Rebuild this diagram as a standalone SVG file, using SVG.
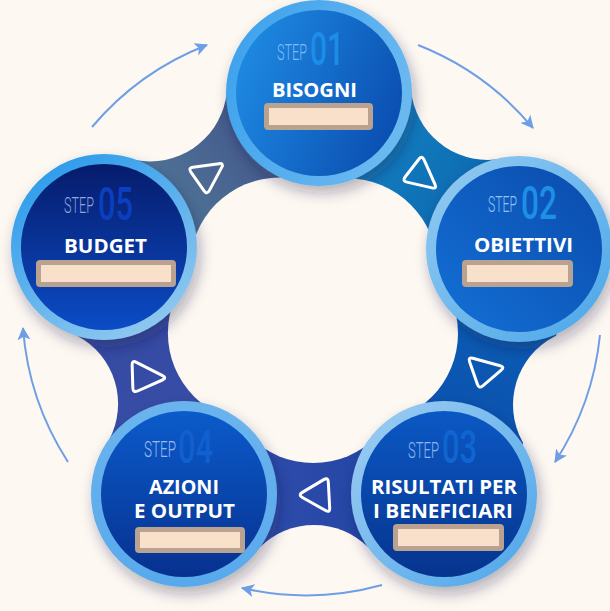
<svg xmlns="http://www.w3.org/2000/svg" width="610" height="611" viewBox="0 0 610 611">
<defs>
<style>
.cream{fill:#FEF8F3}
.step{font-family:"Roboto","Liberation Sans",sans-serif;font-weight:300;font-size:22px}
.num{font-family:"Roboto","Liberation Sans",sans-serif;font-weight:500;font-size:46px}
.title{font-family:"Open Sans","Liberation Sans",sans-serif;font-weight:700;fill:#FFFFFF;font-size:19px}
.box{fill:#F8E0CA;stroke:#B9A290;stroke-width:5}
.tri{fill:none;stroke:#FFFFFF;stroke-width:3;stroke-linejoin:round}
.arc{fill:none;stroke:#6E9FE6;stroke-width:2;marker-end:url(#ah)}
</style>
<marker id="ah" viewBox="0 0 12 12" refX="11" refY="6" markerWidth="13" markerHeight="13" markerUnits="userSpaceOnUse" orient="auto">
<path d="M0,0 L12,6 L0,12 L3,6 Z" fill="#6E9FE6"/>
</marker>
<filter id="sh" x="-25%" y="-25%" width="155%" height="155%">
<feDropShadow dx="3" dy="7" stdDeviation="7" flood-color="#1a1a3a" flood-opacity="0.33"/>
</filter>
<linearGradient id="g1" x1="0" y1="0.3" x2="1" y2="0.7"><stop offset="0" stop-color="#1E8AE2"/><stop offset="1" stop-color="#0A4DB0"/></linearGradient>
<linearGradient id="g2" x1="0" y1="1" x2="1" y2="0"><stop offset="0" stop-color="#1470D6"/><stop offset="1" stop-color="#0A4BAC"/></linearGradient>
<linearGradient id="g3" x1="0" y1="0" x2="0" y2="1"><stop offset="0" stop-color="#0B58C4"/><stop offset="1" stop-color="#06348E"/></linearGradient>
<linearGradient id="g4" x1="0" y1="0" x2="0" y2="1"><stop offset="0" stop-color="#0B5BCB"/><stop offset="1" stop-color="#07318F"/></linearGradient>
<linearGradient id="g5" x1="0" y1="0" x2="0" y2="1"><stop offset="0" stop-color="#061C6C"/><stop offset="1" stop-color="#0B4CC6"/></linearGradient>
<linearGradient id="r1" x1="0" y1="0" x2="1" y2="0.4"><stop offset="0" stop-color="#3AA0EC"/><stop offset="1" stop-color="#6AB8F0"/></linearGradient>
<linearGradient id="r2" x1="0" y1="0" x2="1" y2="1"><stop offset="0" stop-color="#95CBF0"/><stop offset="1" stop-color="#4AA6EA"/></linearGradient>
<linearGradient id="r3" x1="0" y1="0" x2="1" y2="1"><stop offset="0" stop-color="#A0CEF2"/><stop offset="1" stop-color="#4CA5EA"/></linearGradient>
<linearGradient id="r4" x1="0" y1="0" x2="0" y2="1"><stop offset="0" stop-color="#6BB4EE"/><stop offset="1" stop-color="#58A9EC"/></linearGradient>
<linearGradient id="r5" x1="0" y1="0" x2="0.6" y2="1"><stop offset="0" stop-color="#2096EA"/><stop offset="1" stop-color="#8CC6EF"/></linearGradient>
<linearGradient id="s12" gradientUnits="userSpaceOnUse" x1="319" y1="93" x2="519" y2="249"><stop offset="0" stop-color="#168CC8"/><stop offset="1" stop-color="#0A5DAA"/></linearGradient>
<linearGradient id="s23" gradientUnits="userSpaceOnUse" x1="519" y1="249" x2="444" y2="494"><stop offset="0" stop-color="#0A62B6"/><stop offset="1" stop-color="#0C4CAC"/></linearGradient>
<linearGradient id="s34" gradientUnits="userSpaceOnUse" x1="444" y1="494" x2="184" y2="494"><stop offset="0" stop-color="#1F42A2"/><stop offset="1" stop-color="#3450AE"/></linearGradient>
<linearGradient id="s45" gradientUnits="userSpaceOnUse" x1="184" y1="494" x2="104" y2="247"><stop offset="0" stop-color="#3A4FA8"/><stop offset="1" stop-color="#32479F"/></linearGradient>
<linearGradient id="s51" gradientUnits="userSpaceOnUse" x1="104" y1="247" x2="319" y2="93"><stop offset="0" stop-color="#56859C"/><stop offset="1" stop-color="#3D4886"/></linearGradient>
</defs>
<rect width="610" height="611" class="cream"/>

<g id="band">
<polygon fill="url(#s12)" points="313,315 319,93 411.8,87.4 501.8,157.6 519,249"/>
<polygon fill="url(#s23)" points="313,315 519,249 556.4,334.2 522.6,444.4 444,494"/>
<polygon fill="url(#s34)" points="313,315 444,494 372.5,553.4 255.5,553.4 184,494"/>
<polygon fill="url(#s45)" points="313,315 184,494 105.4,444.4 69.4,333.3 104,247"/>
<polygon fill="url(#s51)" points="313,315 104,247 129.4,157.5 226.1,88.3 319,93"/>
<g class="cream">
<circle cx="487.7" cy="82.9" r="77"/>
<circle cx="590" cy="404.8" r="77"/>
<circle cx="314" cy="602" r="77"/>
<circle cx="41.1" cy="403.8" r="77"/>
<circle cx="150.2" cy="84.4" r="77"/>
<circle cx="313" cy="315" r="131"/>
<circle cx="347.1" cy="268.3" r="90"/>
<circle cx="368" cy="333.4" r="90"/>
<circle cx="313.3" cy="373" r="90"/>
<circle cx="257.9" cy="333.1" r="90"/>
<circle cx="279.8" cy="267.5" r="90"/>
</g>
</g>

<g id="connectors">
<path class="arc" d="M92,127 A286,286 0 0 1 207,45"/>
<path class="arc" d="M418,45 A286,286 0 0 1 533,128"/>
<path class="arc" d="M600,335 A286,286 0 0 1 555,462"/>
<path class="arc" d="M382,585 A286,286 0 0 1 242,588"/>
<path class="arc" d="M68,462 A286,286 0 0 1 23,328"/>
<path class="tri" d="M193.0,167.3 L219.0,163.7 Q224,163 221.7,167.4 L209.3,190.6 Q207,195 204.1,190.9 L190.9,172.1 Q188,168 193.0,167.3 Z"/>
<path class="tri" d="M419.0,159.0 L405.1,177.0 Q402,181 406.9,182.1 L432.1,187.9 Q437,189 435.0,184.4 L424.0,159.6 Q422,155 419.0,159.0 Z"/>
<path class="tri" d="M472.8,358.3 L500.2,365.7 Q505,367 501.2,370.2 L482.8,385.8 Q479,389 477.4,384.3 L469.6,361.7 Q468,357 472.8,358.3 Z"/>
<path class="tri" d="M302.3,492.4 L323.7,479.6 Q328,477 328.3,482.0 L329.7,508.0 Q330,513 325.6,510.5 L302.4,497.5 Q298,495 302.3,492.4 Z"/>
<path class="tri" d="M136.4,362.3 L162.6,375.7 Q167,378 162.4,380.0 L137.6,391.0 Q133,393 132.85,388.0 L132.15,365.0 Q132,360 136.4,362.3 Z"/>
</g>

<g id="step01">
<g filter="url(#sh)"><circle cx="319" cy="93" r="93" fill="url(#r1)"/></g>
<circle cx="319" cy="93" r="83" fill="url(#g1)"/>
<text class="step" transform="translate(277,60) scale(0.62,1)" fill="#7DBCF2" textLength="48.4" lengthAdjust="spacingAndGlyphs">STEP</text>
<text class="num" transform="translate(310,65) scale(0.66,1)" fill="#1C8EE6" textLength="51.5" lengthAdjust="spacingAndGlyphs">01</text>
<text class="title" x="272" y="97" textLength="85" lengthAdjust="spacingAndGlyphs">BISOGNI</text>
<rect class="box" x="266.5" y="105.5" width="104" height="22" rx="1.5"/>
</g>

<g id="step02">
<g filter="url(#sh)"><circle cx="519" cy="249" r="93" fill="url(#r2)"/></g>
<circle cx="519" cy="249" r="83" fill="url(#g2)"/>
<text class="step" transform="translate(488,212) scale(0.62,1)" fill="#8FC4F4" textLength="46.8" lengthAdjust="spacingAndGlyphs">STEP</text>
<text class="num" transform="translate(521,219) scale(0.66,1)" fill="#1E8FE8" textLength="54.5" lengthAdjust="spacingAndGlyphs">02</text>
<text class="title" x="474" y="252" textLength="99" lengthAdjust="spacingAndGlyphs">OBIETTIVI</text>
<rect class="box" x="464.5" y="262.5" width="106" height="22" rx="1.5"/>
</g>

<g id="step03">
<g filter="url(#sh)"><circle cx="444" cy="494" r="93" fill="url(#r3)"/></g>
<circle cx="444" cy="494" r="83" fill="url(#g3)"/>
<text class="step" transform="translate(408,458) scale(0.62,1)" fill="#8BB8F0" textLength="50" lengthAdjust="spacingAndGlyphs">STEP</text>
<text class="num" transform="translate(442,463) scale(0.66,1)" fill="#1066D0" textLength="53" lengthAdjust="spacingAndGlyphs">03</text>
<text class="title" x="371" y="494" textLength="146" lengthAdjust="spacingAndGlyphs">RISULTATI PER</text>
<text class="title" x="373" y="518" textLength="140" lengthAdjust="spacingAndGlyphs">I BENEFICIARI</text>
<rect class="box" x="395.5" y="526.5" width="106" height="22" rx="1.5"/>
</g>

<g id="step04">
<g filter="url(#sh)"><circle cx="184" cy="494" r="93" fill="url(#r4)"/></g>
<circle cx="184" cy="494" r="83" fill="url(#g4)"/>
<text class="step" transform="translate(144,457) scale(0.62,1)" fill="#9ABCEC" textLength="51.6" lengthAdjust="spacingAndGlyphs">STEP</text>
<text class="num" transform="translate(178,463) scale(0.66,1)" fill="#1060D0" textLength="53" lengthAdjust="spacingAndGlyphs">04</text>
<text class="title" x="149" y="494" textLength="70" lengthAdjust="spacingAndGlyphs">AZIONI</text>
<text class="title" x="134" y="518" textLength="101" lengthAdjust="spacingAndGlyphs">E OUTPUT</text>
<rect class="box" x="137.5" y="529.5" width="105" height="21" rx="1.5"/>
</g>

<g id="step05">
<g filter="url(#sh)"><circle cx="104" cy="247" r="93" fill="url(#r5)"/></g>
<circle cx="104" cy="247" r="83" fill="url(#g5)"/>
<text class="step" transform="translate(64,213) scale(0.62,1)" fill="#8FA3DF" textLength="48.4" lengthAdjust="spacingAndGlyphs">STEP</text>
<text class="num" transform="translate(98,220) scale(0.66,1)" fill="#0B3FC0" textLength="53" lengthAdjust="spacingAndGlyphs">05</text>
<text class="title" x="64" y="253" textLength="83" lengthAdjust="spacingAndGlyphs">BUDGET</text>
<rect class="box" x="38.5" y="262.5" width="135" height="22" rx="1.5"/>
</g>
</svg>
